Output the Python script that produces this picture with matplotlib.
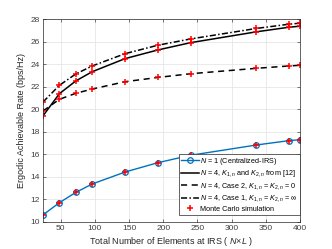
import numpy as np
import matplotlib.pyplot as plt

# total number of IRS elements N x L
nl = [24, 48, 72, 96, 144, 192, 240, 336, 384, 400]

rate_central = [10.6, 11.69, 12.6, 13.35, 14.41, 15.24, 15.9, 16.81, 17.2, 17.28]
rate_k12 = [19.4, 21.37, 22.5, 23.32, 24.48, 25.25, 25.9, 26.86, 27.27, 27.36]
rate_case2 = [19.83, 20.87, 21.4, 21.78, 22.43, 22.81, 23.14, 23.62, 23.83, 23.89]
rate_case1 = [20.63, 22.11, 23.12, 23.83, 24.92, 25.67, 26.23, 27.16, 27.54, 27.63]

xticks = [50, 100, 150, 200, 250, 300, 350, 400]
yticks = [10, 12, 14, 16, 18, 20, 22, 24, 26, 28]

plt.rcParams['font.family'] = ['Liberation Sans', 'DejaVu Sans']
plt.rcParams['mathtext.fontset'] = 'custom'
plt.rcParams['mathtext.it'] = 'Liberation Sans:italic'
plt.rcParams['mathtext.rm'] = 'Liberation Sans'

fig = plt.figure(figsize=(3.32, 2.49), dpi=100)
ax = fig.add_axes([43/332, 1 - 221.7/249, 257/332, 202.7/249])

ax.plot(nl, rate_central, '-o', color='#0072BD', lw=1.0, ms=4, mfc='none', mew=0.9,
        label=r'$N$ = 1 (Centralized-IRS)')
ax.plot(nl, rate_k12, '-', color='k', lw=1.1,
        label=r'$N$ = 4, $K_{1,n}$ and $K_{2,n}$ from [12]')
ax.plot(nl, rate_case2, '--', color='k', lw=1.1, dashes=(4, 3),
        label=r'$N$ = 4, Case 2, $K_{1,n}$ = $K_{2,n}$ = 0')
ax.plot(nl, rate_case1, color='k', lw=1.1, dashes=(4, 1.5, 1, 1.5),
        label=r'$N$ = 4, Case 1, $K_{1,n}$ = $K_{2,n}$ = $\infty$')
mc_x = nl * 4
mc_y = rate_central + rate_k12 + rate_case2 + rate_case1
ax.plot(mc_x, mc_y, '+', color='red', ms=5, mew=1.1, ls='none',
        label='Monte Carlo simulation')

ax.set_xlim(24, 400)
ax.set_ylim(10, 28)
ax.set_xticks(xticks)
ax.set_yticks(yticks)
ax.grid(True, color='#e6e6e6', lw=0.6)
ax.set_axisbelow(True)
ax.tick_params(direction='in', length=2.5, width=0.5, labelsize=6, colors='#404040',
               top=True, right=True, pad=2.5)
for s in ax.spines.values():
    s.set_linewidth(0.5)
    s.set_color('#262626')

ax.set_xlabel(r'Total Number of Elements at IRS ( $N\!\times\!L$ )', fontsize=6.5,
              color='#262626', labelpad=2)
ax.set_ylabel('Ergodic Achievable Rate (bps/Hz)', fontsize=6.5, color='#262626', labelpad=3)

leg = ax.legend(loc='lower right', bbox_to_anchor=(1.0, 0.035), fontsize=5.2,
                frameon=True, fancybox=False, edgecolor='#262626', framealpha=1,
                borderpad=0.25, labelspacing=0.22, handlelength=2.6, handletextpad=0.15,
                borderaxespad=0)
leg.get_frame().set_linewidth(0.5)

fig.savefig('out.png', dpi=100)
